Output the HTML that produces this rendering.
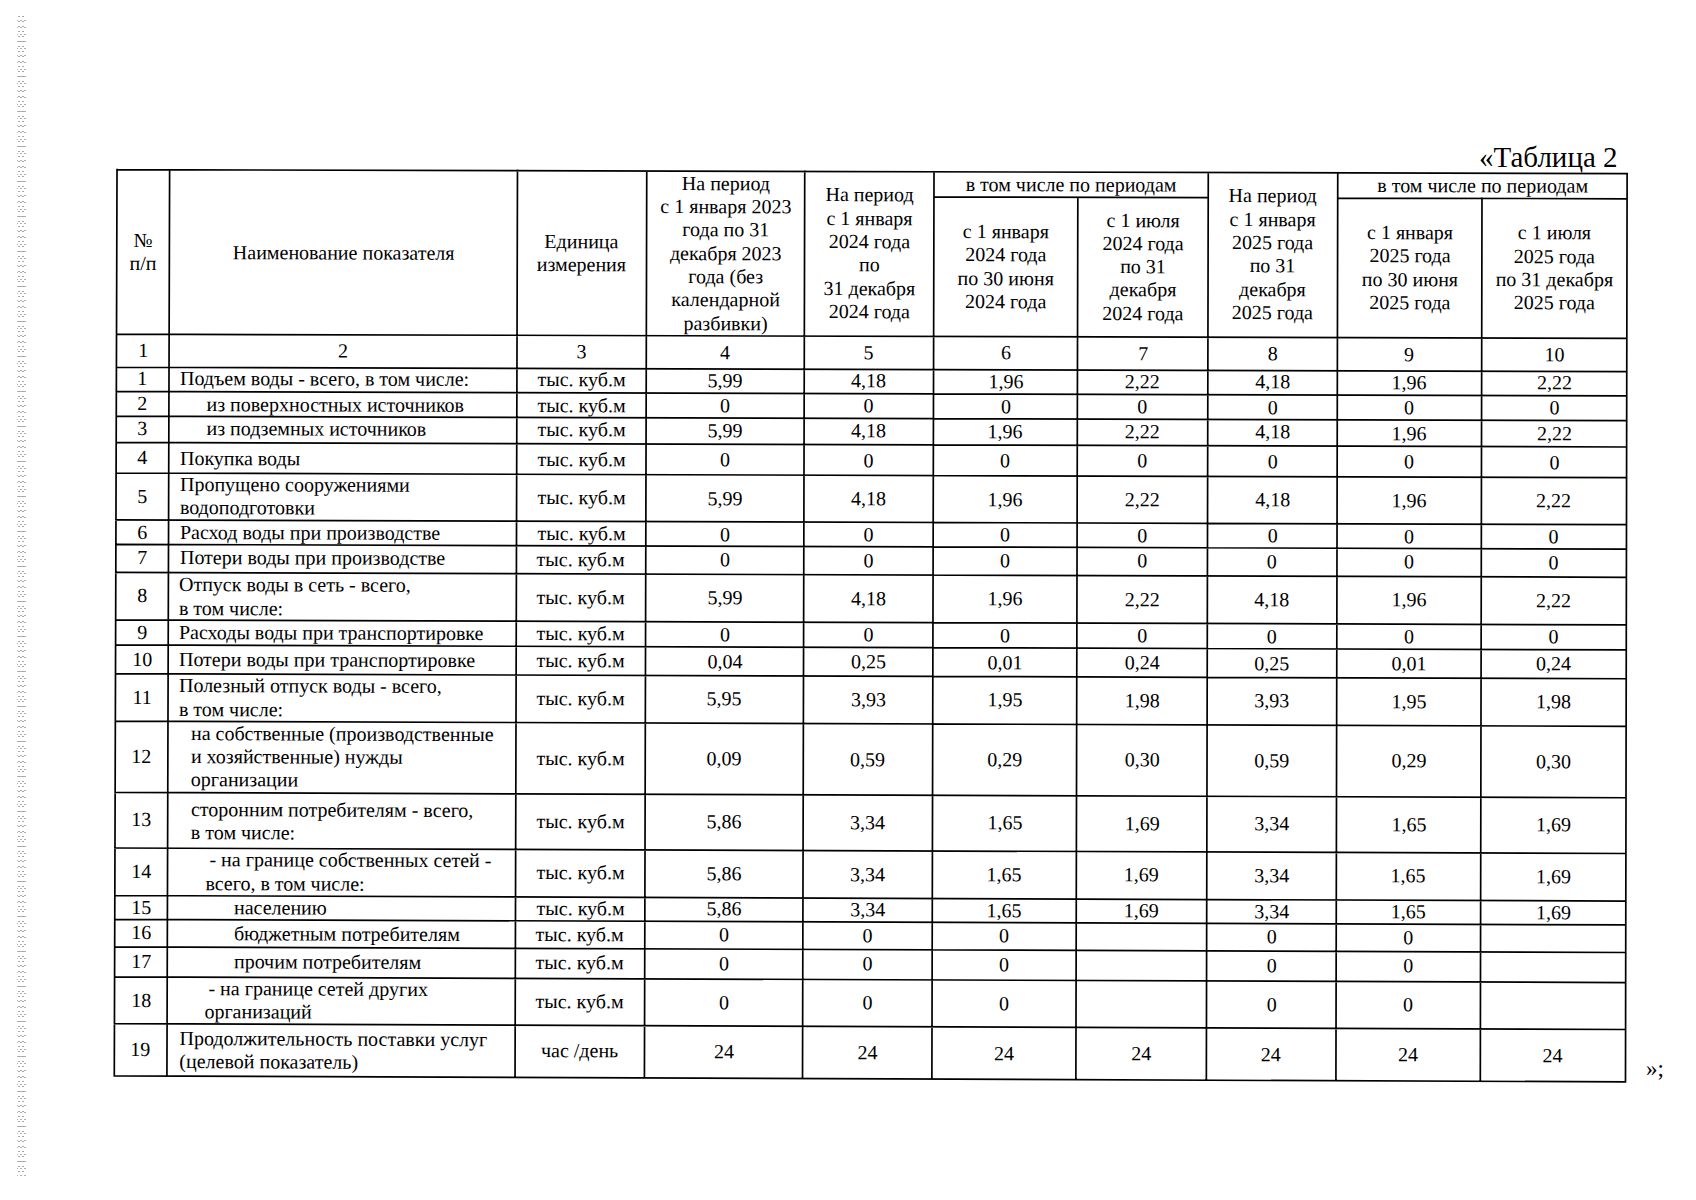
<!DOCTYPE html>
<html><head><meta charset="utf-8"><style>
html,body{margin:0;padding:0;background:#fff;}
body{width:1696px;height:1200px;position:relative;overflow:hidden;font-family:"Liberation Serif",serif;color:#000;}
svg.g{position:absolute;left:0;top:0;}
svg.g path{stroke:#000;stroke-width:1.7;fill:none;stroke-linecap:butt;}
.c{position:absolute;display:flex;align-items:center;justify-content:center;text-align:center;font-size:20px;line-height:23.3px;white-space:nowrap;box-sizing:border-box;transform-origin:0 0;}
.ind{padding-left:4px;}
.strip{position:absolute;left:17px;top:14px;width:9px;height:1162px;background:radial-gradient(circle,#a8a8a8 0 0.7px,transparent 1px) 0 0/4px 5px,radial-gradient(circle,#b0b0b0 0 0.7px,transparent 1px) 2px 3px/4px 7px;}
.ttl{position:absolute;left:1479px;top:141px;font-size:29px;line-height:32px;white-space:nowrap;}
.end{position:absolute;left:1646px;top:1057px;font-size:23px;line-height:23px;white-space:nowrap;}
</style></head><body>
<div class="strip"></div>
<div class="ttl">«Таблица 2</div>
<svg class="g" width="1696" height="1200" viewBox="0 0 1696 1200"><path d="M116.17 169.64L1627.97 173.59 M115.67 334.13L1627.67 338.45 M115.57 367.23L1627.61 371.62 M115.50 391.43L1627.57 395.88 M115.42 416.18L1627.52 420.68 M115.35 442.43L1627.48 446.99 M115.25 473.02L1627.42 477.66 M115.11 519.92L1627.34 524.66 M115.04 544.32L1627.29 549.11 M114.95 572.42L1627.24 577.28 M114.81 619.92L1627.16 624.88 M114.74 644.92L1627.11 649.94 M114.65 673.66L1627.06 678.75 M114.51 721.16L1626.98 726.35 M114.29 792.41L1626.85 797.76 M114.12 848.01L1626.75 853.48 M113.98 895.50L1626.66 901.09 M113.91 919.30L1626.62 924.94 M113.83 946.80L1626.57 952.50 M113.74 976.80L1626.52 982.57 M113.60 1023.65L1626.43 1029.52 M113.44 1075.89L1626.34 1081.88 M933.96 196.97L1208.22 197.69 M1337.71 198.03L1627.07 198.78 M117.02 168.79L114.29 1076.75 M169.62 168.93L166.92 1076.96 M517.48 169.84L515.04 1078.33 M646.76 170.17L644.42 1078.85 M804.74 170.59L802.51 1079.47 M934.02 170.92L931.88 1079.99 M1077.84 196.50L1075.87 1080.56 M1208.28 171.64L1206.34 1081.07 M1337.76 171.98L1335.92 1081.58 M1481.99 197.56L1480.30 1082.16 M1627.12 172.73L1625.49 1082.73"/></svg>
<div class="c" style="left:117.02px;top:169.64px;width:52.60px;height:164.49px;transform:matrix(1,0.00261,-0.00301,1,0,0);"><div>№<br>п/п</div></div>
<div class="c" style="left:169.62px;top:169.78px;width:347.87px;height:164.51px;transform:matrix(1,0.00261,-0.00297,1,0,0);"><div>Наименование показателя</div></div>
<div class="c" style="left:517.48px;top:170.69px;width:129.28px;height:164.59px;transform:matrix(1,0.00261,-0.00269,1,0,0);"><div>Единица<br>измерения</div></div>
<div class="c" style="left:646.76px;top:171.02px;width:157.98px;height:164.62px;transform:matrix(1,0.00261,-0.00258,1,0,0);"><div>На период<br>с 1 января 2023<br>года по 31<br>декабря 2023<br>года (без<br>календарной<br>разбивки)</div></div>
<div class="c" style="left:804.74px;top:171.44px;width:129.28px;height:164.66px;transform:matrix(1,0.00261,-0.00245,1,0,0);"><div>На период<br>с 1 января<br>2024 года<br>по<br>31 декабря<br>2024 года</div></div>
<div class="c" style="left:1208.28px;top:172.49px;width:129.48px;height:164.76px;transform:matrix(1,0.00261,-0.00213,1,0,0);"><div>На период<br>с 1 января<br>2025 года<br>по 31<br>декабря<br>2025 года</div></div>
<div class="c" style="left:934.02px;top:171.77px;width:274.26px;height:25.20px;transform:matrix(1,0.00261,-0.00235,1,0,0);"><div>в том числе по периодам</div></div>
<div class="c" style="left:933.96px;top:196.97px;width:143.88px;height:139.49px;transform:matrix(1,0.00261,-0.00235,1,0,0);"><div>с 1 января<br>2024 года<br>по 30 июня<br>2024 года</div></div>
<div class="c" style="left:1077.84px;top:197.35px;width:130.38px;height:139.53px;transform:matrix(1,0.00261,-0.00223,1,0,0);"><div>с 1 июля<br>2024 года<br>по 31<br>декабря<br>2024 года</div></div>
<div class="c" style="left:1337.76px;top:172.83px;width:289.36px;height:25.20px;transform:matrix(1,0.00261,-0.00202,1,0,0);"><div>в том числе по периодам</div></div>
<div class="c" style="left:1337.71px;top:198.03px;width:144.28px;height:139.59px;transform:matrix(1,0.00261,-0.00202,1,0,0);"><div>с 1 января<br>2025 года<br>по 30 июня<br>2025 года</div></div>
<div class="c" style="left:1481.99px;top:198.41px;width:145.08px;height:139.63px;transform:matrix(1,0.00261,-0.00191,1,0,0);"><div>с 1 июля<br>2025 года<br>по 31 декабря<br>2025 года</div></div>
<div class="c" style="left:116.52px;top:334.13px;width:52.61px;height:33.10px;transform:matrix(1,0.00286,-0.00301,1,0,0);"><div>1</div></div>
<div class="c" style="left:169.13px;top:334.28px;width:347.91px;height:33.10px;transform:matrix(1,0.00286,-0.00297,1,0,0);"><div>2</div></div>
<div class="c" style="left:517.04px;top:335.28px;width:129.30px;height:33.12px;transform:matrix(1,0.00286,-0.00269,1,0,0);"><div>3</div></div>
<div class="c" style="left:646.34px;top:335.65px;width:158.00px;height:33.12px;transform:matrix(1,0.00286,-0.00258,1,0,0);"><div>4</div></div>
<div class="c" style="left:804.33px;top:336.10px;width:129.30px;height:33.13px;transform:matrix(1,0.00286,-0.00245,1,0,0);"><div>5</div></div>
<div class="c" style="left:933.63px;top:336.47px;width:143.90px;height:33.14px;transform:matrix(1,0.00286,-0.00235,1,0,0);"><div>6</div></div>
<div class="c" style="left:1077.53px;top:336.88px;width:130.40px;height:33.15px;transform:matrix(1,0.00286,-0.00223,1,0,0);"><div>7</div></div>
<div class="c" style="left:1207.93px;top:337.25px;width:129.50px;height:33.15px;transform:matrix(1,0.00286,-0.00213,1,0,0);"><div>8</div></div>
<div class="c" style="left:1337.43px;top:337.62px;width:144.30px;height:33.16px;transform:matrix(1,0.00286,-0.00202,1,0,0);"><div>9</div></div>
<div class="c" style="left:1481.72px;top:338.03px;width:145.10px;height:33.17px;transform:matrix(1,0.00286,-0.00191,1,0,0);"><div>10</div></div>
<div class="c" style="left:116.42px;top:367.23px;width:52.61px;height:24.20px;transform:matrix(1,0.00291,-0.00301,1,0,0);"><div>1</div></div>
<div class="c" style="left:169.03px;top:367.38px;width:347.92px;height:24.20px;transform:matrix(1,0.00291,-0.00297,1,0,0);justify-content:flex-start;text-align:left;padding-left:11px;"><div>Подъем воды - всего, в том числе:</div></div>
<div class="c" style="left:516.95px;top:368.40px;width:129.30px;height:24.21px;transform:matrix(1,0.00291,-0.00269,1,0,0);"><div>тыс. куб.м</div></div>
<div class="c" style="left:646.25px;top:368.77px;width:158.00px;height:24.22px;transform:matrix(1,0.00291,-0.00258,1,0,0);"><div>5,99</div></div>
<div class="c" style="left:804.25px;top:369.23px;width:129.30px;height:24.22px;transform:matrix(1,0.00291,-0.00245,1,0,0);"><div>4,18</div></div>
<div class="c" style="left:933.55px;top:369.61px;width:143.90px;height:24.23px;transform:matrix(1,0.00291,-0.00235,1,0,0);"><div>1,96</div></div>
<div class="c" style="left:1077.46px;top:370.02px;width:130.40px;height:24.23px;transform:matrix(1,0.00291,-0.00223,1,0,0);"><div>2,22</div></div>
<div class="c" style="left:1207.86px;top:370.40px;width:129.50px;height:24.24px;transform:matrix(1,0.00291,-0.00213,1,0,0);"><div>4,18</div></div>
<div class="c" style="left:1337.36px;top:370.78px;width:144.30px;height:24.24px;transform:matrix(1,0.00291,-0.00202,1,0,0);"><div>1,96</div></div>
<div class="c" style="left:1481.66px;top:371.20px;width:145.10px;height:24.25px;transform:matrix(1,0.00291,-0.00191,1,0,0);"><div>2,22</div></div>
<div class="c" style="left:116.35px;top:391.43px;width:52.61px;height:24.75px;transform:matrix(1,0.00294,-0.00301,1,0,0);"><div>2</div></div>
<div class="c" style="left:168.96px;top:391.59px;width:347.93px;height:24.75px;transform:matrix(1,0.00294,-0.00297,1,0,0);justify-content:flex-start;text-align:left;padding-left:37.5px;"><div>из поверхностных источников</div></div>
<div class="c" style="left:516.89px;top:392.61px;width:129.30px;height:24.76px;transform:matrix(1,0.00294,-0.00269,1,0,0);"><div>тыс. куб.м</div></div>
<div class="c" style="left:646.19px;top:392.99px;width:158.00px;height:24.77px;transform:matrix(1,0.00294,-0.00258,1,0,0);"><div>0</div></div>
<div class="c" style="left:804.19px;top:393.45px;width:129.30px;height:24.77px;transform:matrix(1,0.00294,-0.00245,1,0,0);"><div>0</div></div>
<div class="c" style="left:933.50px;top:393.83px;width:143.90px;height:24.78px;transform:matrix(1,0.00294,-0.00235,1,0,0);"><div>0</div></div>
<div class="c" style="left:1077.40px;top:394.26px;width:130.40px;height:24.78px;transform:matrix(1,0.00294,-0.00223,1,0,0);"><div>0</div></div>
<div class="c" style="left:1207.81px;top:394.64px;width:129.50px;height:24.79px;transform:matrix(1,0.00294,-0.00213,1,0,0);"><div>0</div></div>
<div class="c" style="left:1337.31px;top:395.02px;width:144.30px;height:24.79px;transform:matrix(1,0.00294,-0.00202,1,0,0);"><div>0</div></div>
<div class="c" style="left:1481.61px;top:395.45px;width:145.10px;height:24.80px;transform:matrix(1,0.00294,-0.00191,1,0,0);"><div>0</div></div>
<div class="c" style="left:116.27px;top:416.18px;width:52.61px;height:26.25px;transform:matrix(1,0.00298,-0.00301,1,0,0);"><div>3</div></div>
<div class="c" style="left:168.88px;top:416.34px;width:347.94px;height:26.25px;transform:matrix(1,0.00298,-0.00297,1,0,0);justify-content:flex-start;text-align:left;padding-left:37.5px;"><div>из подземных источников</div></div>
<div class="c" style="left:516.82px;top:417.37px;width:129.31px;height:26.26px;transform:matrix(1,0.00298,-0.00269,1,0,0);"><div>тыс. куб.м</div></div>
<div class="c" style="left:646.13px;top:417.76px;width:158.01px;height:26.27px;transform:matrix(1,0.00298,-0.00258,1,0,0);"><div>5,99</div></div>
<div class="c" style="left:804.13px;top:418.23px;width:129.31px;height:26.28px;transform:matrix(1,0.00298,-0.00245,1,0,0);"><div>4,18</div></div>
<div class="c" style="left:933.44px;top:418.61px;width:143.91px;height:26.28px;transform:matrix(1,0.00298,-0.00235,1,0,0);"><div>1,96</div></div>
<div class="c" style="left:1077.35px;top:419.04px;width:130.41px;height:26.29px;transform:matrix(1,0.00298,-0.00223,1,0,0);"><div>2,22</div></div>
<div class="c" style="left:1207.75px;top:419.43px;width:129.51px;height:26.29px;transform:matrix(1,0.00298,-0.00213,1,0,0);"><div>4,18</div></div>
<div class="c" style="left:1337.26px;top:419.82px;width:144.31px;height:26.30px;transform:matrix(1,0.00298,-0.00202,1,0,0);"><div>1,96</div></div>
<div class="c" style="left:1481.57px;top:420.25px;width:145.11px;height:26.30px;transform:matrix(1,0.00298,-0.00191,1,0,0);"><div>2,22</div></div>
<div class="c" style="left:116.20px;top:442.43px;width:52.61px;height:30.60px;transform:matrix(1,0.00302,-0.00301,1,0,0);"><div>4</div></div>
<div class="c" style="left:168.81px;top:442.59px;width:347.94px;height:30.60px;transform:matrix(1,0.00302,-0.00297,1,0,0);justify-content:flex-start;text-align:left;padding-left:11px;"><div>Покупка воды</div></div>
<div class="c" style="left:516.75px;top:443.64px;width:129.31px;height:30.62px;transform:matrix(1,0.00302,-0.00269,1,0,0);"><div>тыс. куб.м</div></div>
<div class="c" style="left:646.06px;top:444.03px;width:158.01px;height:30.62px;transform:matrix(1,0.00302,-0.00258,1,0,0);"><div>0</div></div>
<div class="c" style="left:804.07px;top:444.50px;width:129.31px;height:30.63px;transform:matrix(1,0.00302,-0.00245,1,0,0);"><div>0</div></div>
<div class="c" style="left:933.38px;top:444.89px;width:143.91px;height:30.64px;transform:matrix(1,0.00302,-0.00235,1,0,0);"><div>0</div></div>
<div class="c" style="left:1077.29px;top:445.33px;width:130.41px;height:30.64px;transform:matrix(1,0.00302,-0.00223,1,0,0);"><div>0</div></div>
<div class="c" style="left:1207.70px;top:445.72px;width:129.51px;height:30.65px;transform:matrix(1,0.00302,-0.00213,1,0,0);"><div>0</div></div>
<div class="c" style="left:1337.21px;top:446.11px;width:144.31px;height:30.65px;transform:matrix(1,0.00302,-0.00202,1,0,0);"><div>0</div></div>
<div class="c" style="left:1481.52px;top:446.55px;width:145.11px;height:30.66px;transform:matrix(1,0.00302,-0.00191,1,0,0);"><div>0</div></div>
<div class="c" style="left:116.10px;top:473.03px;width:52.61px;height:46.90px;transform:matrix(1,0.00306,-0.00301,1,0,0);"><div>5</div></div>
<div class="c" style="left:168.72px;top:473.19px;width:347.95px;height:46.90px;transform:matrix(1,0.00306,-0.00297,1,0,0);justify-content:flex-start;text-align:left;padding-left:11px;"><div>Пропущено сооружениями<br>водоподготовки</div></div>
<div class="c" style="left:516.67px;top:474.25px;width:129.31px;height:46.93px;transform:matrix(1,0.00306,-0.00269,1,0,0);"><div>тыс. куб.м</div></div>
<div class="c" style="left:645.98px;top:474.65px;width:158.01px;height:46.93px;transform:matrix(1,0.00306,-0.00258,1,0,0);"><div>5,99</div></div>
<div class="c" style="left:803.99px;top:475.13px;width:129.31px;height:46.95px;transform:matrix(1,0.00306,-0.00245,1,0,0);"><div>4,18</div></div>
<div class="c" style="left:933.31px;top:475.53px;width:143.91px;height:46.95px;transform:matrix(1,0.00306,-0.00235,1,0,0);"><div>1,96</div></div>
<div class="c" style="left:1077.22px;top:475.97px;width:130.41px;height:46.97px;transform:matrix(1,0.00306,-0.00223,1,0,0);"><div>2,22</div></div>
<div class="c" style="left:1207.63px;top:476.37px;width:129.51px;height:46.97px;transform:matrix(1,0.00306,-0.00213,1,0,0);"><div>4,18</div></div>
<div class="c" style="left:1337.14px;top:476.77px;width:144.31px;height:46.98px;transform:matrix(1,0.00306,-0.00202,1,0,0);"><div>1,96</div></div>
<div class="c" style="left:1481.46px;top:477.21px;width:145.11px;height:46.99px;transform:matrix(1,0.00306,-0.00191,1,0,0);"><div>2,22</div></div>
<div class="c" style="left:115.96px;top:519.92px;width:52.61px;height:24.40px;transform:matrix(1,0.00313,-0.00301,1,0,0);"><div>6</div></div>
<div class="c" style="left:168.58px;top:520.09px;width:347.96px;height:24.40px;transform:matrix(1,0.00313,-0.00297,1,0,0);justify-content:flex-start;text-align:left;padding-left:11px;"><div>Расход воды при производстве</div></div>
<div class="c" style="left:516.54px;top:521.18px;width:129.32px;height:24.41px;transform:matrix(1,0.00313,-0.00269,1,0,0);"><div>тыс. куб.м</div></div>
<div class="c" style="left:645.86px;top:521.58px;width:158.02px;height:24.42px;transform:matrix(1,0.00313,-0.00258,1,0,0);"><div>0</div></div>
<div class="c" style="left:803.88px;top:522.08px;width:129.32px;height:24.42px;transform:matrix(1,0.00313,-0.00245,1,0,0);"><div>0</div></div>
<div class="c" style="left:933.19px;top:522.48px;width:143.92px;height:24.43px;transform:matrix(1,0.00313,-0.00235,1,0,0);"><div>0</div></div>
<div class="c" style="left:1077.11px;top:522.94px;width:130.42px;height:24.43px;transform:matrix(1,0.00313,-0.00223,1,0,0);"><div>0</div></div>
<div class="c" style="left:1207.53px;top:523.34px;width:129.52px;height:24.44px;transform:matrix(1,0.00313,-0.00213,1,0,0);"><div>0</div></div>
<div class="c" style="left:1337.05px;top:523.75px;width:144.32px;height:24.44px;transform:matrix(1,0.00313,-0.00202,1,0,0);"><div>0</div></div>
<div class="c" style="left:1481.37px;top:524.20px;width:145.12px;height:24.45px;transform:matrix(1,0.00313,-0.00191,1,0,0);"><div>0</div></div>
<div class="c" style="left:115.89px;top:544.32px;width:52.62px;height:28.10px;transform:matrix(1,0.00317,-0.00301,1,0,0);"><div>7</div></div>
<div class="c" style="left:168.50px;top:544.49px;width:347.97px;height:28.10px;transform:matrix(1,0.00317,-0.00297,1,0,0);justify-content:flex-start;text-align:left;padding-left:11px;"><div>Потери воды при производстве</div></div>
<div class="c" style="left:516.47px;top:545.59px;width:129.32px;height:28.12px;transform:matrix(1,0.00317,-0.00269,1,0,0);"><div>тыс. куб.м</div></div>
<div class="c" style="left:645.79px;top:546.00px;width:158.02px;height:28.12px;transform:matrix(1,0.00317,-0.00258,1,0,0);"><div>0</div></div>
<div class="c" style="left:803.82px;top:546.50px;width:129.32px;height:28.13px;transform:matrix(1,0.00317,-0.00245,1,0,0);"><div>0</div></div>
<div class="c" style="left:933.14px;top:546.91px;width:143.92px;height:28.13px;transform:matrix(1,0.00317,-0.00235,1,0,0);"><div>0</div></div>
<div class="c" style="left:1077.06px;top:547.37px;width:130.42px;height:28.14px;transform:matrix(1,0.00317,-0.00223,1,0,0);"><div>0</div></div>
<div class="c" style="left:1207.48px;top:547.78px;width:129.52px;height:28.14px;transform:matrix(1,0.00317,-0.00213,1,0,0);"><div>0</div></div>
<div class="c" style="left:1337.00px;top:548.19px;width:144.32px;height:28.15px;transform:matrix(1,0.00317,-0.00202,1,0,0);"><div>0</div></div>
<div class="c" style="left:1481.32px;top:548.65px;width:145.12px;height:28.16px;transform:matrix(1,0.00317,-0.00191,1,0,0);"><div>0</div></div>
<div class="c" style="left:115.80px;top:572.42px;width:52.62px;height:47.50px;transform:matrix(1,0.00321,-0.00301,1,0,0);"><div>8</div></div>
<div class="c" style="left:168.42px;top:572.59px;width:347.98px;height:47.50px;transform:matrix(1,0.00321,-0.00297,1,0,0);justify-content:flex-start;text-align:left;padding-left:11px;"><div>Отпуск воды в сеть - всего,<br>в том числе:</div></div>
<div class="c" style="left:516.40px;top:573.71px;width:129.32px;height:47.53px;transform:matrix(1,0.00321,-0.00269,1,0,0);"><div>тыс. куб.м</div></div>
<div class="c" style="left:645.72px;top:574.12px;width:158.03px;height:47.54px;transform:matrix(1,0.00321,-0.00258,1,0,0);"><div>5,99</div></div>
<div class="c" style="left:803.75px;top:574.63px;width:129.32px;height:47.55px;transform:matrix(1,0.00321,-0.00245,1,0,0);"><div>4,18</div></div>
<div class="c" style="left:933.07px;top:575.05px;width:143.93px;height:47.56px;transform:matrix(1,0.00321,-0.00235,1,0,0);"><div>1,96</div></div>
<div class="c" style="left:1077.00px;top:575.51px;width:130.42px;height:47.57px;transform:matrix(1,0.00321,-0.00223,1,0,0);"><div>2,22</div></div>
<div class="c" style="left:1207.42px;top:575.93px;width:129.52px;height:47.58px;transform:matrix(1,0.00321,-0.00213,1,0,0);"><div>4,18</div></div>
<div class="c" style="left:1336.94px;top:576.34px;width:144.33px;height:47.58px;transform:matrix(1,0.00321,-0.00202,1,0,0);"><div>1,96</div></div>
<div class="c" style="left:1481.27px;top:576.81px;width:145.13px;height:47.59px;transform:matrix(1,0.00321,-0.00191,1,0,0);"><div>2,22</div></div>
<div class="c" style="left:115.66px;top:619.92px;width:52.62px;height:25.00px;transform:matrix(1,0.00328,-0.00301,1,0,0);"><div>9</div></div>
<div class="c" style="left:168.28px;top:620.09px;width:347.99px;height:25.00px;transform:matrix(1,0.00328,-0.00297,1,0,0);justify-content:flex-start;text-align:left;padding-left:11px;"><div>Расходы воды при транспортировке</div></div>
<div class="c" style="left:516.27px;top:621.23px;width:129.33px;height:25.01px;transform:matrix(1,0.00328,-0.00269,1,0,0);"><div>тыс. куб.м</div></div>
<div class="c" style="left:645.60px;top:621.66px;width:158.03px;height:25.02px;transform:matrix(1,0.00328,-0.00258,1,0,0);"><div>0</div></div>
<div class="c" style="left:803.63px;top:622.18px;width:129.33px;height:25.02px;transform:matrix(1,0.00328,-0.00245,1,0,0);"><div>0</div></div>
<div class="c" style="left:932.96px;top:622.60px;width:143.93px;height:25.03px;transform:matrix(1,0.00328,-0.00235,1,0,0);"><div>0</div></div>
<div class="c" style="left:1076.89px;top:623.07px;width:130.43px;height:25.03px;transform:matrix(1,0.00328,-0.00223,1,0,0);"><div>0</div></div>
<div class="c" style="left:1207.32px;top:623.50px;width:129.53px;height:25.04px;transform:matrix(1,0.00328,-0.00213,1,0,0);"><div>0</div></div>
<div class="c" style="left:1336.85px;top:623.93px;width:144.33px;height:25.04px;transform:matrix(1,0.00328,-0.00202,1,0,0);"><div>0</div></div>
<div class="c" style="left:1481.18px;top:624.40px;width:145.13px;height:25.05px;transform:matrix(1,0.00328,-0.00191,1,0,0);"><div>0</div></div>
<div class="c" style="left:115.59px;top:644.92px;width:52.62px;height:28.75px;transform:matrix(1,0.00332,-0.00301,1,0,0);"><div>10</div></div>
<div class="c" style="left:168.21px;top:645.09px;width:348.00px;height:28.75px;transform:matrix(1,0.00332,-0.00297,1,0,0);justify-content:flex-start;text-align:left;padding-left:11px;"><div>Потери воды при транспортировке</div></div>
<div class="c" style="left:516.20px;top:646.25px;width:129.33px;height:28.77px;transform:matrix(1,0.00332,-0.00269,1,0,0);"><div>тыс. куб.м</div></div>
<div class="c" style="left:645.53px;top:646.68px;width:158.04px;height:28.77px;transform:matrix(1,0.00332,-0.00258,1,0,0);"><div>0,04</div></div>
<div class="c" style="left:803.57px;top:647.20px;width:129.33px;height:28.78px;transform:matrix(1,0.00332,-0.00245,1,0,0);"><div>0,25</div></div>
<div class="c" style="left:932.90px;top:647.63px;width:143.93px;height:28.78px;transform:matrix(1,0.00332,-0.00235,1,0,0);"><div>0,01</div></div>
<div class="c" style="left:1076.83px;top:648.11px;width:130.43px;height:28.79px;transform:matrix(1,0.00332,-0.00223,1,0,0);"><div>0,24</div></div>
<div class="c" style="left:1207.26px;top:648.54px;width:129.53px;height:28.80px;transform:matrix(1,0.00332,-0.00213,1,0,0);"><div>0,25</div></div>
<div class="c" style="left:1336.80px;top:648.97px;width:144.33px;height:28.80px;transform:matrix(1,0.00332,-0.00202,1,0,0);"><div>0,01</div></div>
<div class="c" style="left:1481.13px;top:649.45px;width:145.13px;height:28.81px;transform:matrix(1,0.00332,-0.00191,1,0,0);"><div>0,24</div></div>
<div class="c" style="left:115.50px;top:673.67px;width:52.62px;height:47.50px;transform:matrix(1,0.00336,-0.00301,1,0,0);"><div>11</div></div>
<div class="c" style="left:168.12px;top:673.84px;width:348.01px;height:47.50px;transform:matrix(1,0.00336,-0.00297,1,0,0);justify-content:flex-start;text-align:left;padding-left:11px;"><div>Полезный отпуск воды - всего,<br>в том числе:</div></div>
<div class="c" style="left:516.13px;top:675.01px;width:129.33px;height:47.53px;transform:matrix(1,0.00336,-0.00269,1,0,0);"><div>тыс. куб.м</div></div>
<div class="c" style="left:645.46px;top:675.45px;width:158.04px;height:47.54px;transform:matrix(1,0.00336,-0.00258,1,0,0);"><div>5,95</div></div>
<div class="c" style="left:803.50px;top:675.98px;width:129.33px;height:47.55px;transform:matrix(1,0.00336,-0.00245,1,0,0);"><div>3,93</div></div>
<div class="c" style="left:932.83px;top:676.41px;width:143.94px;height:47.56px;transform:matrix(1,0.00336,-0.00235,1,0,0);"><div>1,95</div></div>
<div class="c" style="left:1076.77px;top:676.90px;width:130.43px;height:47.57px;transform:matrix(1,0.00336,-0.00223,1,0,0);"><div>1,98</div></div>
<div class="c" style="left:1207.20px;top:677.34px;width:129.53px;height:47.58px;transform:matrix(1,0.00336,-0.00213,1,0,0);"><div>3,93</div></div>
<div class="c" style="left:1336.74px;top:677.77px;width:144.34px;height:47.58px;transform:matrix(1,0.00336,-0.00202,1,0,0);"><div>1,95</div></div>
<div class="c" style="left:1481.07px;top:678.26px;width:145.14px;height:47.59px;transform:matrix(1,0.00336,-0.00191,1,0,0);"><div>1,98</div></div>
<div class="c" style="left:115.36px;top:721.17px;width:52.62px;height:71.25px;transform:matrix(1,0.00343,-0.00301,1,0,0);"><div>12</div></div>
<div class="c" style="left:167.98px;top:721.35px;width:348.02px;height:71.25px;transform:matrix(1,0.00343,-0.00297,1,0,0);justify-content:flex-start;text-align:left;padding-left:23px;"><div>на собственные (производственные<br>и хозяйственные) нужды<br>организации</div></div>
<div class="c" style="left:516.00px;top:722.54px;width:129.34px;height:71.29px;transform:matrix(1,0.00343,-0.00269,1,0,0);"><div>тыс. куб.м</div></div>
<div class="c" style="left:645.34px;top:722.98px;width:158.05px;height:71.30px;transform:matrix(1,0.00343,-0.00258,1,0,0);"><div>0,09</div></div>
<div class="c" style="left:803.38px;top:723.53px;width:129.34px;height:71.32px;transform:matrix(1,0.00343,-0.00245,1,0,0);"><div>0,59</div></div>
<div class="c" style="left:932.72px;top:723.97px;width:143.94px;height:71.33px;transform:matrix(1,0.00343,-0.00235,1,0,0);"><div>0,29</div></div>
<div class="c" style="left:1076.66px;top:724.46px;width:130.44px;height:71.35px;transform:matrix(1,0.00343,-0.00223,1,0,0);"><div>0,30</div></div>
<div class="c" style="left:1207.10px;top:724.91px;width:129.54px;height:71.36px;transform:matrix(1,0.00343,-0.00213,1,0,0);"><div>0,59</div></div>
<div class="c" style="left:1336.64px;top:725.36px;width:144.34px;height:71.38px;transform:matrix(1,0.00343,-0.00202,1,0,0);"><div>0,29</div></div>
<div class="c" style="left:1480.98px;top:725.85px;width:145.14px;height:71.39px;transform:matrix(1,0.00343,-0.00191,1,0,0);"><div>0,30</div></div>
<div class="c" style="left:115.14px;top:792.41px;width:52.63px;height:55.60px;transform:matrix(1,0.00354,-0.00301,1,0,0);"><div>13</div></div>
<div class="c" style="left:167.77px;top:792.60px;width:348.04px;height:55.60px;transform:matrix(1,0.00354,-0.00297,1,0,0);justify-content:flex-start;text-align:left;padding-left:23px;"><div>сторонним потребителям - всего,<br>в том числе:</div></div>
<div class="c" style="left:515.81px;top:793.83px;width:129.35px;height:55.63px;transform:matrix(1,0.00354,-0.00269,1,0,0);"><div>тыс. куб.м</div></div>
<div class="c" style="left:645.15px;top:794.29px;width:158.06px;height:55.64px;transform:matrix(1,0.00354,-0.00258,1,0,0);"><div>5,86</div></div>
<div class="c" style="left:803.21px;top:794.85px;width:129.35px;height:55.65px;transform:matrix(1,0.00354,-0.00245,1,0,0);"><div>3,34</div></div>
<div class="c" style="left:932.55px;top:795.30px;width:143.95px;height:55.67px;transform:matrix(1,0.00354,-0.00235,1,0,0);"><div>1,65</div></div>
<div class="c" style="left:1076.50px;top:795.81px;width:130.45px;height:55.68px;transform:matrix(1,0.00354,-0.00223,1,0,0);"><div>1,69</div></div>
<div class="c" style="left:1206.95px;top:796.27px;width:129.55px;height:55.69px;transform:matrix(1,0.00354,-0.00213,1,0,0);"><div>3,34</div></div>
<div class="c" style="left:1336.50px;top:796.73px;width:144.35px;height:55.70px;transform:matrix(1,0.00354,-0.00202,1,0,0);"><div>1,65</div></div>
<div class="c" style="left:1480.85px;top:797.24px;width:145.15px;height:55.71px;transform:matrix(1,0.00354,-0.00191,1,0,0);"><div>1,69</div></div>
<div class="c" style="left:114.97px;top:848.01px;width:52.63px;height:47.50px;transform:matrix(1,0.00362,-0.00301,1,0,0);"><div>14</div></div>
<div class="c" style="left:167.60px;top:848.20px;width:348.06px;height:47.50px;transform:matrix(1,0.00362,-0.00297,1,0,0);justify-content:flex-start;text-align:left;padding-left:37.5px;"><div><span class='ind'>- на границе собственных сетей -</span><br>всего, в том числе:</div></div>
<div class="c" style="left:515.66px;top:849.46px;width:129.35px;height:47.53px;transform:matrix(1,0.00362,-0.00269,1,0,0);"><div>тыс. куб.м</div></div>
<div class="c" style="left:645.01px;top:849.93px;width:158.06px;height:47.54px;transform:matrix(1,0.00362,-0.00258,1,0,0);"><div>5,86</div></div>
<div class="c" style="left:803.07px;top:850.50px;width:129.35px;height:47.55px;transform:matrix(1,0.00362,-0.00245,1,0,0);"><div>3,34</div></div>
<div class="c" style="left:932.42px;top:850.97px;width:143.96px;height:47.56px;transform:matrix(1,0.00362,-0.00235,1,0,0);"><div>1,65</div></div>
<div class="c" style="left:1076.38px;top:851.49px;width:130.45px;height:47.57px;transform:matrix(1,0.00362,-0.00223,1,0,0);"><div>1,69</div></div>
<div class="c" style="left:1206.83px;top:851.96px;width:129.55px;height:47.57px;transform:matrix(1,0.00362,-0.00213,1,0,0);"><div>3,34</div></div>
<div class="c" style="left:1336.38px;top:852.43px;width:144.36px;height:47.58px;transform:matrix(1,0.00362,-0.00202,1,0,0);"><div>1,65</div></div>
<div class="c" style="left:1480.74px;top:852.95px;width:145.16px;height:47.59px;transform:matrix(1,0.00362,-0.00191,1,0,0);"><div>1,69</div></div>
<div class="c" style="left:114.83px;top:895.51px;width:52.63px;height:23.80px;transform:matrix(1,0.00369,-0.00301,1,0,0);"><div>15</div></div>
<div class="c" style="left:167.46px;top:895.70px;width:348.07px;height:23.80px;transform:matrix(1,0.00369,-0.00297,1,0,0);justify-content:flex-start;text-align:left;padding-left:67px;"><div>населению</div></div>
<div class="c" style="left:515.53px;top:896.99px;width:129.36px;height:23.81px;transform:matrix(1,0.00369,-0.00269,1,0,0);"><div>тыс. куб.м</div></div>
<div class="c" style="left:644.89px;top:897.46px;width:158.07px;height:23.82px;transform:matrix(1,0.00369,-0.00258,1,0,0);"><div>5,86</div></div>
<div class="c" style="left:802.96px;top:898.05px;width:129.36px;height:23.82px;transform:matrix(1,0.00369,-0.00245,1,0,0);"><div>3,34</div></div>
<div class="c" style="left:932.31px;top:898.52px;width:143.96px;height:23.83px;transform:matrix(1,0.00369,-0.00235,1,0,0);"><div>1,65</div></div>
<div class="c" style="left:1076.27px;top:899.06px;width:130.46px;height:23.83px;transform:matrix(1,0.00369,-0.00223,1,0,0);"><div>1,69</div></div>
<div class="c" style="left:1206.73px;top:899.54px;width:129.56px;height:23.84px;transform:matrix(1,0.00369,-0.00213,1,0,0);"><div>3,34</div></div>
<div class="c" style="left:1336.29px;top:900.02px;width:144.36px;height:23.84px;transform:matrix(1,0.00369,-0.00202,1,0,0);"><div>1,65</div></div>
<div class="c" style="left:1480.65px;top:900.55px;width:145.16px;height:23.85px;transform:matrix(1,0.00369,-0.00191,1,0,0);"><div>1,69</div></div>
<div class="c" style="left:114.76px;top:919.31px;width:52.63px;height:27.50px;transform:matrix(1,0.00373,-0.00301,1,0,0);"><div>16</div></div>
<div class="c" style="left:167.39px;top:919.50px;width:348.08px;height:27.50px;transform:matrix(1,0.00373,-0.00297,1,0,0);justify-content:flex-start;text-align:left;padding-left:67px;"><div>бюджетным потребителям</div></div>
<div class="c" style="left:515.47px;top:920.80px;width:129.36px;height:27.52px;transform:matrix(1,0.00373,-0.00269,1,0,0);"><div>тыс. куб.м</div></div>
<div class="c" style="left:644.83px;top:921.28px;width:158.07px;height:27.52px;transform:matrix(1,0.00373,-0.00258,1,0,0);"><div>0</div></div>
<div class="c" style="left:802.90px;top:921.87px;width:129.36px;height:27.53px;transform:matrix(1,0.00373,-0.00245,1,0,0);"><div>0</div></div>
<div class="c" style="left:932.26px;top:922.35px;width:143.97px;height:27.53px;transform:matrix(1,0.00373,-0.00235,1,0,0);"><div>0</div></div>
<div class="c" style="left:1206.68px;top:923.37px;width:129.56px;height:27.54px;transform:matrix(1,0.00373,-0.00213,1,0,0);"><div>0</div></div>
<div class="c" style="left:1336.24px;top:923.86px;width:144.37px;height:27.55px;transform:matrix(1,0.00373,-0.00202,1,0,0);"><div>0</div></div>
<div class="c" style="left:114.68px;top:946.80px;width:52.63px;height:30.00px;transform:matrix(1,0.00377,-0.00301,1,0,0);"><div>17</div></div>
<div class="c" style="left:167.31px;top:947.00px;width:348.08px;height:30.00px;transform:matrix(1,0.00377,-0.00297,1,0,0);justify-content:flex-start;text-align:left;padding-left:67px;"><div>прочим потребителям</div></div>
<div class="c" style="left:515.39px;top:948.31px;width:129.36px;height:30.02px;transform:matrix(1,0.00377,-0.00269,1,0,0);"><div>тыс. куб.м</div></div>
<div class="c" style="left:644.75px;top:948.80px;width:158.08px;height:30.02px;transform:matrix(1,0.00377,-0.00258,1,0,0);"><div>0</div></div>
<div class="c" style="left:802.83px;top:949.40px;width:129.36px;height:30.03px;transform:matrix(1,0.00377,-0.00245,1,0,0);"><div>0</div></div>
<div class="c" style="left:932.19px;top:949.88px;width:143.97px;height:30.04px;transform:matrix(1,0.00377,-0.00235,1,0,0);"><div>0</div></div>
<div class="c" style="left:1206.62px;top:950.92px;width:129.56px;height:30.05px;transform:matrix(1,0.00377,-0.00213,1,0,0);"><div>0</div></div>
<div class="c" style="left:1336.18px;top:951.41px;width:144.37px;height:30.05px;transform:matrix(1,0.00377,-0.00202,1,0,0);"><div>0</div></div>
<div class="c" style="left:114.59px;top:976.80px;width:52.63px;height:46.85px;transform:matrix(1,0.00381,-0.00301,1,0,0);"><div>18</div></div>
<div class="c" style="left:167.22px;top:977.00px;width:348.09px;height:46.85px;transform:matrix(1,0.00381,-0.00297,1,0,0);justify-content:flex-start;text-align:left;padding-left:37.5px;"><div><span class='ind'>- на границе сетей других</span><br>организаций</div></div>
<div class="c" style="left:515.31px;top:978.33px;width:129.36px;height:46.88px;transform:matrix(1,0.00381,-0.00269,1,0,0);"><div>тыс. куб.м</div></div>
<div class="c" style="left:644.68px;top:978.82px;width:158.08px;height:46.88px;transform:matrix(1,0.00381,-0.00258,1,0,0);"><div>0</div></div>
<div class="c" style="left:802.76px;top:979.43px;width:129.36px;height:46.90px;transform:matrix(1,0.00381,-0.00245,1,0,0);"><div>0</div></div>
<div class="c" style="left:932.12px;top:979.92px;width:143.97px;height:46.90px;transform:matrix(1,0.00381,-0.00235,1,0,0);"><div>0</div></div>
<div class="c" style="left:1206.56px;top:980.97px;width:129.57px;height:46.92px;transform:matrix(1,0.00381,-0.00213,1,0,0);"><div>0</div></div>
<div class="c" style="left:1336.12px;top:981.46px;width:144.37px;height:46.93px;transform:matrix(1,0.00381,-0.00202,1,0,0);"><div>0</div></div>
<div class="c" style="left:114.45px;top:1023.65px;width:52.64px;height:52.25px;transform:matrix(1,0.00388,-0.00301,1,0,0);"><div>19</div></div>
<div class="c" style="left:167.08px;top:1023.86px;width:348.10px;height:52.25px;transform:matrix(1,0.00388,-0.00297,1,0,0);justify-content:flex-start;text-align:left;padding-left:12.5px;"><div>Продолжительность поставки услуг<br>(целевой показатель)</div></div>
<div class="c" style="left:515.19px;top:1025.21px;width:129.37px;height:52.28px;transform:matrix(1,0.00388,-0.00269,1,0,0);"><div>час /день</div></div>
<div class="c" style="left:644.56px;top:1025.71px;width:158.08px;height:52.29px;transform:matrix(1,0.00388,-0.00258,1,0,0);"><div>24</div></div>
<div class="c" style="left:802.64px;top:1026.32px;width:129.37px;height:52.30px;transform:matrix(1,0.00388,-0.00245,1,0,0);"><div>24</div></div>
<div class="c" style="left:932.01px;top:1026.82px;width:143.98px;height:52.31px;transform:matrix(1,0.00388,-0.00235,1,0,0);"><div>24</div></div>
<div class="c" style="left:1075.99px;top:1027.38px;width:130.47px;height:52.32px;transform:matrix(1,0.00388,-0.00223,1,0,0);"><div>24</div></div>
<div class="c" style="left:1206.46px;top:1027.89px;width:129.57px;height:52.33px;transform:matrix(1,0.00388,-0.00213,1,0,0);"><div>24</div></div>
<div class="c" style="left:1336.03px;top:1028.39px;width:144.38px;height:52.34px;transform:matrix(1,0.00388,-0.00202,1,0,0);"><div>24</div></div>
<div class="c" style="left:1480.41px;top:1028.95px;width:145.18px;height:52.35px;transform:matrix(1,0.00388,-0.00191,1,0,0);"><div>24</div></div>
<div class="end">»;</div>
</body></html>
